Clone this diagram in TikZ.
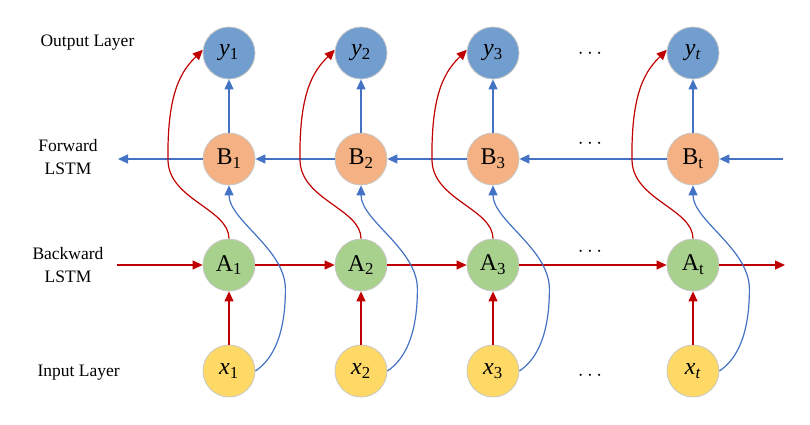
\documentclass[tikz,border=0pt]{standalone}
\usepackage{fontspec}
\setmainfont{Liberation Serif}
\usetikzlibrary{positioning, arrows.meta}

\definecolor{outblue}{RGB}{114,157,207}
\definecolor{fwdorange}{RGB}{244,177,131}
\definecolor{bwdgreen}{RGB}{169,209,142}
\definecolor{inyellow}{RGB}{255,217,102}
\definecolor{lineblue}{RGB}{68,114,196}
\definecolor{linered}{RGB}{192,0,0}

\begin{document}
\begin{tikzpicture}[
    x=1pt, y=1pt,
    on grid, node distance=106pt and 132pt,
    cell/.style={circle, draw=black!22, line width=0.8pt, minimum size=52pt, inner sep=0pt, font=\fontsize{24}{26}\selectfont},
    out-cell/.style={cell, fill=outblue},
    fwd-cell/.style={cell, fill=fwdorange},
    bwd-cell/.style={cell, fill=bwdgreen},
    in-cell/.style={cell, fill=inyellow},
    layer/.style={font=\fontsize{17.5}{23}\selectfont, align=center},
    dots/.style={font=\fontsize{21}{22}\selectfont},
    blue-arr/.style={draw=lineblue, line width=1.2pt, -{Triangle[length=10pt, width=9pt]}},
    red-arr/.style={draw=linered, line width=1.2pt, -{Triangle[length=10pt, width=9pt]}}
  ]
  \useasboundingbox (0,0) rectangle (810,-424);

  % output layer
  \node[out-cell] (y1) at (229,-53) {\textit{y}\textsubscript{1}};
  \node[out-cell, right=of y1] (y2) {\textit{y}\textsubscript{2}};
  \node[out-cell, right=of y2] (y3) {\textit{y}\textsubscript{3}};
  \node[out-cell, right=200pt of y3] (yt) {\textit{y}\textsubscript{\textit{t}}};

  % forward LSTM
  \node[fwd-cell, below=of y1] (B1) {B\textsubscript{1}};
  \node[fwd-cell, below=of y2] (B2) {B\textsubscript{2}};
  \node[fwd-cell, below=of y3] (B3) {B\textsubscript{3}};
  \node[fwd-cell, below=of yt] (Bt) {B\textsubscript{t}};

  % backward LSTM
  \node[bwd-cell, below=of B1] (A1) {A\textsubscript{1}};
  \node[bwd-cell, below=of B2] (A2) {A\textsubscript{2}};
  \node[bwd-cell, below=of B3] (A3) {A\textsubscript{3}};
  \node[bwd-cell, below=of Bt] (At) {A\textsubscript{t}};

  % input layer
  \node[in-cell, below=of A1] (x1) {\textit{x}\textsubscript{1}};
  \node[in-cell, below=of A2] (x2) {\textit{x}\textsubscript{2}};
  \node[in-cell, below=of A3] (x3) {\textit{x}\textsubscript{3}};
  \node[in-cell, below=of At] (xt) {\textit{x}\textsubscript{\textit{t}}};

  \node[layer, anchor=west] (out-lbl) at (37,-43) {Output Layer};
  \node[layer] (fwd-lbl) at (68,-157) {Forward\\LSTM};
  \node[layer] (bwd-lbl) at (68,-265) {Backward\\LSTM};
  \node[layer, anchor=west] (in-lbl) at (34,-373) {Input Layer};

  \node[dots] (dots-y) at (590,-54) {$\cdots$};
  \node[dots] (dots-B) at (590,-144) {$\cdots$};
  \node[dots] (dots-A) at (590,-252) {$\cdots$};
  \node[dots] (dots-x) at (590,-376) {$\cdots$};

  \coordinate[right=90pt of Bt] (fwd-in);
  \coordinate[left=111pt of B1] (fwd-out);
  \coordinate[left=112pt of A1] (bwd-in);
  \coordinate[right=92pt of At] (bwd-out);

  % chains
  \draw[blue-arr] (fwd-in) -- (Bt);
  \draw[blue-arr] (Bt) -- (B3);
  \draw[blue-arr] (B3) -- (B2);
  \draw[blue-arr] (B2) -- (B1);
  \draw[blue-arr] (B1) -- (fwd-out);
  \draw[red-arr] (bwd-in) -- (A1);
  \draw[red-arr] (A1) -- (A2);
  \draw[red-arr] (A2) -- (A3);
  \draw[red-arr] (A3) -- (At);
  \draw[red-arr] (At) -- (bwd-out);

  \foreach \i in {1,2,3,t} {
    \draw[red-arr] (x\i) -- (A\i);
    \draw[blue-arr] (B\i) -- (y\i);
    \draw[blue-arr] (x\i.east) .. controls +(15,10) and +(0,-50) .. ++(30,82)
      .. controls +(0,40) and +(0,-35) .. (B\i.south);
    \draw[red-arr] (A\i.north) .. controls +(0,30) and +(0,-40) .. ++(-61,79)
      .. controls +(-1,70) and +(-20,-20) .. (y\i.173);
  }
\end{tikzpicture}
\end{document}
